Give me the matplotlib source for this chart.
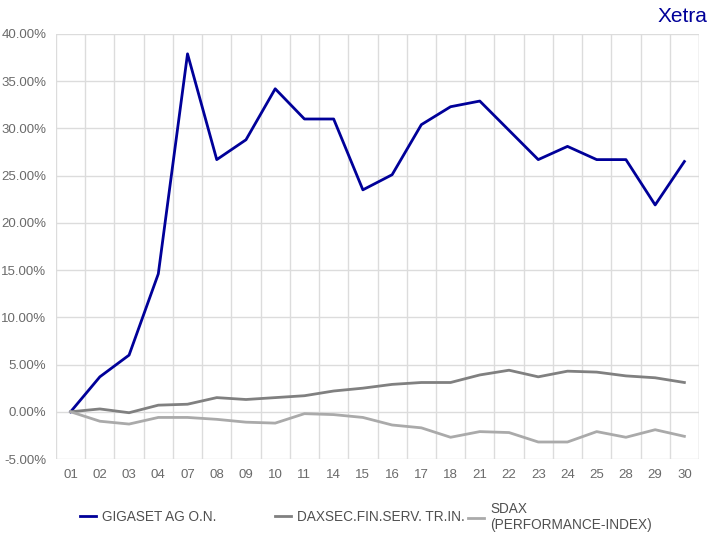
import matplotlib
matplotlib.use("Agg")
import matplotlib.pyplot as plt
import numpy as np
from matplotlib.ticker import FuncFormatter, FixedLocator

plt.rcParams["font.family"] = ["Liberation Sans", "DejaVu Sans"]

days = ["01", "02", "03", "04", "07", "08", "09", "10", "11", "14", "15",
        "16", "17", "18", "21", "22", "23", "24", "25", "28", "29", "30"]
gigaset = [0.0, 3.7, 6.0, 14.6, 37.9, 26.7, 28.8, 34.2, 31.0, 31.0, 23.5,
           25.1, 30.4, 32.3, 32.9, 29.8, 26.7, 28.1, 26.7, 26.7, 21.9, 26.5]
daxsec = [0.0, 0.3, -0.1, 0.7, 0.8, 1.5, 1.3, 1.5, 1.7, 2.2, 2.5,
          2.9, 3.1, 3.1, 3.9, 4.4, 3.7, 4.3, 4.2, 3.8, 3.6, 3.1]
sdax = [0.0, -1.0, -1.3, -0.6, -0.6, -0.8, -1.1, -1.2, -0.2, -0.3, -0.6,
        -1.4, -1.7, -2.7, -2.1, -2.2, -3.2, -3.2, -2.1, -2.7, -1.9, -2.6]
labels = ["GIGASET AG O.N.", "DAXSEC.FIN.SERV. TR.IN.", "SDAX\n(PERFORMANCE-INDEX)"]
colors = ["#000099", "#808080", "#aaaaaa"]

fig = plt.figure(figsize=(7.09, 5.35), dpi=100)
W, H = 709, 535
ax = fig.add_axes([56 / W, (H - 459) / H, (699 - 56) / W, (459 - 34) / H])

x = np.arange(len(days))
lines = []
for vals, col, lab in zip([gigaset, daxsec, sdax], colors, labels):
    ln, = ax.plot(x, vals, color=col, lw=2.0, label=lab)
    lines.append(ln)

ax.set_xlim(-0.5, len(days) - 0.5)
ax.set_ylim(-5, 40)
ax.set_yticks(np.arange(-5, 41, 5))
ax.yaxis.set_major_formatter(FuncFormatter(lambda v, p: f"{v:.2f}%"))
ax.set_xticks(x)
ax.set_xticklabels(days)
ax.xaxis.set_minor_locator(FixedLocator(np.arange(-0.5, len(days), 1.0)))

ax.grid(True, which="major", axis="y", color="#dcdcdc", lw=1)
ax.grid(True, which="minor", axis="x", color="#dcdcdc", lw=1)
ax.set_axisbelow(True)
for s in ax.spines.values():
    s.set_visible(False)
ax.axvline(len(days) - 0.5, color="#dcdcdc", lw=1, zorder=0)
ax.tick_params(which="both", length=0, labelsize=9.5, colors="#6a6a6a", pad=7)

fig.text(707 / W, 1 - 17 / H, "Xetra", color="#000099", fontsize=15,
         ha="right", va="center")

# one legend entry per slot, as in the reference
for ln, xl in zip(lines, [80, 275, 468]):
    fig.legend(handles=[ln], loc="center left", bbox_to_anchor=(xl / W, 1 - 517 / H),
               frameon=False, fontsize=9.8, handlelength=1.2, handletextpad=0.45,
               borderaxespad=0, borderpad=0, labelcolor="#505050")

fig.savefig("out.png", dpi=100)
